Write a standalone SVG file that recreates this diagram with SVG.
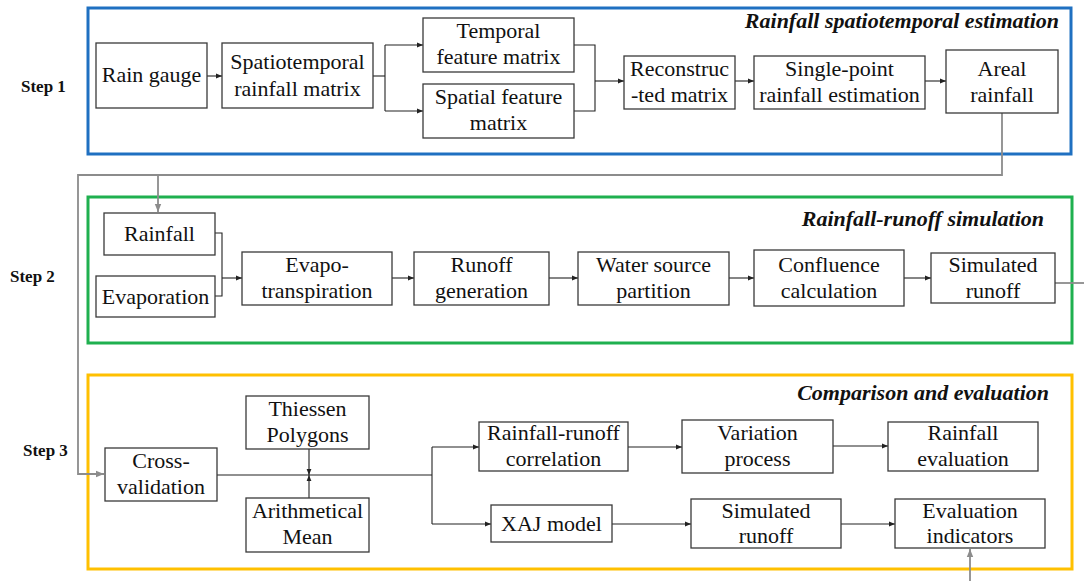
<svg xmlns="http://www.w3.org/2000/svg" width="1084" height="581" viewBox="0 0 1084 581">
<defs>
<marker id="ah" viewBox="0 0 10 10" refX="10" refY="5" markerWidth="6" markerHeight="6" orient="auto" markerUnits="userSpaceOnUse"><path d="M0,1 L10,5 L0,9 z" fill="#222"/></marker>
<marker id="ag" viewBox="0 0 10 10" refX="10" refY="5" markerWidth="8" markerHeight="8" orient="auto" markerUnits="userSpaceOnUse"><path d="M0,1 L10,5 L0,9 z" fill="#8c8c8c"/></marker>
<style>
.box{fill:#fff;stroke:#3a3a3a;stroke-width:1.3}
.t{font-family:"Liberation Serif","Times New Roman",serif;font-size:22px;fill:#111;text-anchor:middle}
.step{font-family:"Liberation Serif","Times New Roman",serif;font-size:17px;font-weight:bold;fill:#111}
.title{font-family:"Liberation Serif","Times New Roman",serif;font-size:22px;font-weight:bold;font-style:italic;fill:#111;text-anchor:end}
.c{fill:none;stroke:#222;stroke-width:1.1}
.g{fill:none;stroke:#8c8c8c;stroke-width:1.8}
.frame{fill:none;stroke-width:3}
</style>
</defs>
<rect width="1084" height="581" fill="#fff"/>

<g id="frames">
<rect class="frame" x="88" y="8" width="983" height="146" stroke="#1f70c1"/>
<rect class="frame" x="88" y="197" width="984" height="146" stroke="#1fb04f"/>
<rect class="frame" x="88" y="375" width="984" height="194" stroke="#ffc000"/>
</g>

<g id="labels">
<text class="step" x="21" y="92">Step 1</text>
<text class="step" x="10" y="282">Step 2</text>
<text class="step" x="23" y="456">Step 3</text>
<text class="title" x="1059" y="28">Rainfall spatiotemporal estimation</text>
<text class="title" x="1044" y="226">Rainfall-runoff simulation</text>
<text class="title" x="1049" y="400">Comparison and evaluation</text>
</g>

<g id="connectors">
<path class="g" d="M1002,113 V175 H78 V474 H104" marker-end="url(#ag)"/>
<path class="g" d="M158,175 V212" marker-end="url(#ag)"/>
<path class="g" d="M1055,283 H1084"/>
<path class="g" d="M970,581 V549" marker-end="url(#ag)"/>

<path class="c" d="M207,76 H222" marker-end="url(#ah)"/>
<path class="c" d="M373,76 H385"/>
<path class="c" d="M385,45 V111"/>
<path class="c" d="M385,45 H423" marker-end="url(#ah)"/>
<path class="c" d="M385,111 H423" marker-end="url(#ah)"/>
<path class="c" d="M574,45 H595 V111 H574"/>
<path class="c" d="M595,81 H624" marker-end="url(#ah)"/>
<path class="c" d="M735,81 H754" marker-end="url(#ah)"/>
<path class="c" d="M925,81 H946" marker-end="url(#ah)"/>

<path class="c" d="M215,233 H222 V296 H215"/>
<path class="c" d="M222,278 H242" marker-end="url(#ah)"/>
<path class="c" d="M392,278 H414" marker-end="url(#ah)"/>
<path class="c" d="M549,278 H578" marker-end="url(#ah)"/>
<path class="c" d="M729,278 H754" marker-end="url(#ah)"/>
<path class="c" d="M904,278 H931" marker-end="url(#ah)"/>

<path class="c" d="M217,475 H432"/>
<path class="c" d="M309,449 V475" marker-end="url(#ah)"/>
<path class="c" d="M309,498 V475" marker-end="url(#ah)"/>
<path class="c" d="M432,447 V524"/>
<path class="c" d="M432,447 H479" marker-end="url(#ah)"/>
<path class="c" d="M432,524 H491" marker-end="url(#ah)"/>
<path class="c" d="M628,447 H682" marker-end="url(#ah)"/>
<path class="c" d="M833,446 H888" marker-end="url(#ah)"/>
<path class="c" d="M612,524 H691" marker-end="url(#ah)"/>
<path class="c" d="M841,524 H895" marker-end="url(#ah)"/>
</g>

<g id="rain-gauge"><rect class="box" x="96" y="43" width="111" height="65"/><text class="t" x="151.5" y="82">Rain gauge</text></g>
<g id="spatiotemporal-matrix"><rect class="box" x="222" y="43" width="151" height="65"/><text class="t" x="297.5" y="69">Spatiotemporal</text><text class="t" x="297.5" y="96">rainfall matrix</text></g>
<g id="temporal-feature"><rect class="box" x="423" y="18" width="151" height="54"/><text class="t" x="498.5" y="38">Temporal</text><text class="t" x="498.5" y="64">feature matrix</text></g>
<g id="spatial-feature"><rect class="box" x="423" y="84" width="151" height="54"/><text class="t" x="498.5" y="104">Spatial feature</text><text class="t" x="498.5" y="130">matrix</text></g>
<g id="reconstructed"><rect class="box" x="624" y="56" width="111" height="53"/><text class="t" x="679.5" y="76">Reconstruc</text><text class="t" x="679.5" y="102">-ted matrix</text></g>
<g id="single-point"><rect class="box" x="754" y="56" width="171" height="53"/><text class="t" x="839.5" y="76">Single-point</text><text class="t" x="839.5" y="102">rainfall estimation</text></g>
<g id="areal-rainfall"><rect class="box" x="946" y="50" width="112" height="63"/><text class="t" x="1002" y="76">Areal</text><text class="t" x="1002" y="102">rainfall</text></g>

<g id="rainfall"><rect class="box" x="104" y="213" width="111" height="42"/><text class="t" x="159.5" y="241">Rainfall</text></g>
<g id="evaporation"><rect class="box" x="96" y="276" width="119" height="41"/><text class="t" x="155.5" y="304">Evaporation</text></g>
<g id="evapotranspiration"><rect class="box" x="242" y="252" width="150" height="53"/><text class="t" x="317" y="272">Evapo-</text><text class="t" x="317" y="298">transpiration</text></g>
<g id="runoff-generation"><rect class="box" x="414" y="252" width="135" height="53"/><text class="t" x="481.5" y="272">Runoff</text><text class="t" x="481.5" y="298">generation</text></g>
<g id="water-source"><rect class="box" x="578" y="252" width="151" height="53"/><text class="t" x="653.5" y="272">Water source</text><text class="t" x="653.5" y="298">partition</text></g>
<g id="confluence"><rect class="box" x="754" y="250" width="150" height="56"/><text class="t" x="829" y="272">Confluence</text><text class="t" x="829" y="298">calculation</text></g>
<g id="simulated-runoff-2"><rect class="box" x="931" y="253" width="124" height="50"/><text class="t" x="993" y="272">Simulated</text><text class="t" x="993" y="298">runoff</text></g>

<g id="cross-validation"><rect class="box" x="105" y="448" width="112" height="53"/><text class="t" x="161" y="468">Cross-</text><text class="t" x="161" y="494">validation</text></g>
<g id="thiessen"><rect class="box" x="246" y="396" width="123" height="53"/><text class="t" x="307.5" y="416">Thiessen</text><text class="t" x="307.5" y="442">Polygons</text></g>
<g id="arithmetical"><rect class="box" x="246" y="498" width="123" height="54"/><text class="t" x="307.5" y="518">Arithmetical</text><text class="t" x="307.5" y="544">Mean</text></g>
<g id="rr-correlation"><rect class="box" x="479" y="422" width="149" height="49"/><text class="t" x="553.5" y="440">Rainfall-runoff</text><text class="t" x="553.5" y="466">correlation</text></g>
<g id="variation"><rect class="box" x="682" y="420" width="151" height="53"/><text class="t" x="757.5" y="440">Variation</text><text class="t" x="757.5" y="466">process</text></g>
<g id="rainfall-evaluation"><rect class="box" x="888" y="422" width="150" height="49"/><text class="t" x="963" y="440">Rainfall</text><text class="t" x="963" y="466">evaluation</text></g>
<g id="xaj-model"><rect class="box" x="491" y="505" width="121" height="37"/><text class="t" x="551.5" y="531">XAJ model</text></g>
<g id="simulated-runoff-3"><rect class="box" x="691" y="499" width="150" height="49"/><text class="t" x="766" y="518">Simulated</text><text class="t" x="766" y="543">runoff</text></g>
<g id="evaluation-indicators"><rect class="box" x="895" y="499" width="150" height="49"/><text class="t" x="970" y="518">Evaluation</text><text class="t" x="970" y="543">indicators</text></g>
</svg>
